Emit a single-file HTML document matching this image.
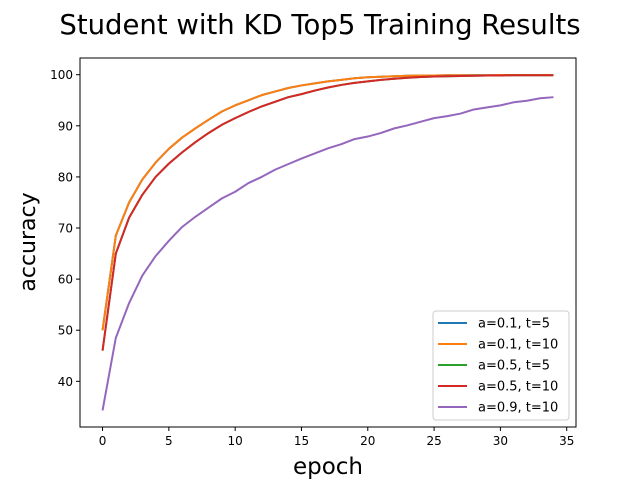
<!DOCTYPE html>
<html><head><meta charset="utf-8"><style>
html,body{margin:0;padding:0;background:#fff;}
svg{display:block;font-family:"DejaVu Sans","Liberation Sans",sans-serif;}
</style></head><body>
<svg id="chart" width="640" height="480" viewBox="0 0 640 480">
<text x="320" y="34" text-anchor="middle" font-size="27.5">Student with KD Top5 Training Results</text>
<g id="plot"></g>
<g id="axes"></g>
<text x="328" y="474" text-anchor="middle" font-size="23">epoch</text>
<text transform="translate(35,242) rotate(-90)" text-anchor="middle" font-size="22">accuracy</text>
<g id="legend"></g>
</svg>
<script>
const epochs = Array.from({length:35},(_, i)=>i);
const seriesNames = ["a=0.1, t=5","a=0.1, t=10","a=0.5, t=5","a=0.5, t=10","a=0.9, t=10"];
const seriesColors = ["#1f77b4","#ff7f0e","#2ca02c","#d62728","#9467bd"];
const sA01t5 = [50,68.5,75,79.5,82.8,85.5,87.7,89.5,91.2,92.8,94,95,96,96.7,97.4,97.9,98.3,98.7,99,99.3,99.5,99.6,99.7,99.8,99.85,99.85,99.9,99.9,99.9,99.9,99.95,99.95,99.95,99.95,99.95];
const sA01t10 = [50,68.5,75,79.5,82.8,85.5,87.7,89.5,91.2,92.8,94,95,96,96.7,97.4,97.9,98.3,98.7,99,99.3,99.5,99.6,99.7,99.8,99.85,99.85,99.9,99.9,99.9,99.9,99.95,99.95,99.95,99.95,99.95];
const sA05t5 = [46,65,72,76.5,80,82.6,84.8,86.8,88.6,90.2,91.5,92.7,93.8,94.7,95.6,96.2,96.9,97.5,98,98.4,98.7,99,99.2,99.4,99.55,99.65,99.7,99.75,99.8,99.85,99.85,99.9,99.9,99.9,99.9];
const sA05t10 = [46,65,72,76.5,80,82.6,84.8,86.8,88.6,90.2,91.5,92.7,93.8,94.7,95.6,96.2,96.9,97.5,98,98.4,98.7,99,99.2,99.4,99.55,99.65,99.7,99.75,99.8,99.85,99.85,99.9,99.9,99.9,99.9];
const sA09t10 = [34.3,48.5,55.3,60.7,64.5,67.5,70.2,72.2,74,75.8,77.1,78.8,80,81.4,82.5,83.6,84.6,85.6,86.4,87.4,87.9,88.6,89.5,90.1,90.8,91.5,91.9,92.4,93.2,93.6,94,94.6,94.9,95.4,95.6];
const xTicks = [0,5,10,15,20,25,30,35];
const yTicks = [40,50,60,70,80,90,100];

const NS="http://www.w3.org/2000/svg";
const L=80,R=576,T=58,B=427;
const xMin=-1.7,xMax=35.7,yMin=31.06,yMax=103.27;
const xs=v=>L+(v-xMin)/(xMax-xMin)*(R-L);
const ys=v=>B-(v-yMin)/(yMax-yMin)*(B-T);
function mk(tag,attrs,parent){const e=document.createElementNS(NS,tag);for(const k in attrs)e.setAttribute(k,attrs[k]);parent.appendChild(e);return e;}
const plot=document.getElementById('plot'),axes=document.getElementById('axes'),legend=document.getElementById('legend');
const allSeries=[sA01t5,sA01t10,sA05t5,sA05t10,sA09t10];
allSeries.forEach((s,i)=>{
  const p=mk('polyline',{points:s.map((v,j)=>xs(epochs[j]).toFixed(2)+','+ys(v).toFixed(2)).join(' '),fill:'none',stroke:seriesColors[i],'stroke-width':2,'stroke-linejoin':'round'},plot);
  
  
});
const frame=mk('rect',{x:L,y:T,width:R-L,height:B-T,fill:'none',stroke:'#000','stroke-width':1},axes);


xTicks.forEach(t=>{
  const x=xs(t);
  const tk=mk('line',{x1:x,x2:x,y1:B,y2:B+4,stroke:'#000'},axes);
  
  
  const tx=mk('text',{x:x,y:B+18,'text-anchor':'middle','font-size':12},axes);
  tx.textContent=t;
  
  
});
yTicks.forEach(t=>{
  const y=ys(t);
  const tk=mk('line',{x1:L-4,x2:L,y1:y,y2:y,stroke:'#000'},axes);
  
  
  const tx=mk('text',{x:L-7,y:y+4.5,'text-anchor':'end','font-size':12},axes);
  tx.textContent=t;
  
  
});
const box=mk('rect',{x:433,y:311,width:136,height:109,rx:3,fill:'#fff','fill-opacity':0.8,stroke:'#ccc'},legend);


seriesNames.forEach((n,i)=>{
  const y=323+i*21;
  const ln=mk('line',{x1:438,x2:467,y1:y,y2:y,stroke:seriesColors[i],'stroke-width':2},legend);
  
  
  const tx=mk('text',{x:478,y:y+4.5,'font-size':13},legend);
  tx.textContent=n;
  
  
});
</script>
</body></html>
